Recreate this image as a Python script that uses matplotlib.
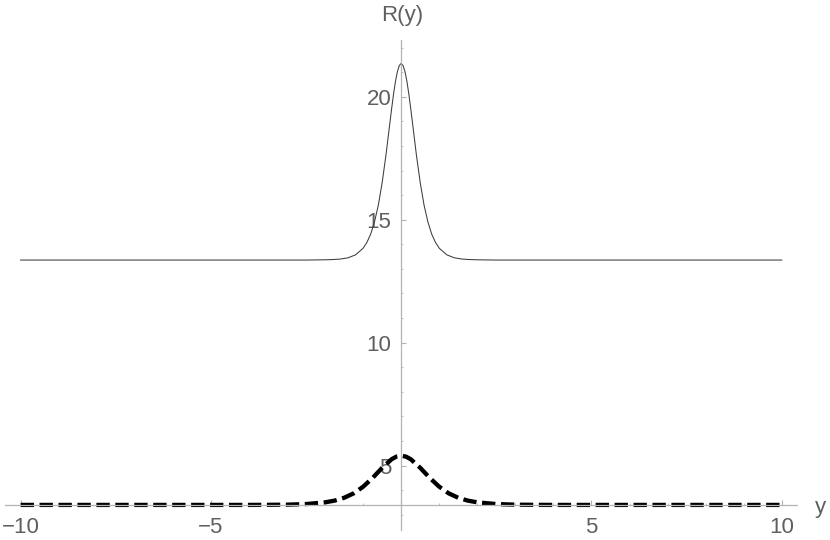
import matplotlib.pyplot as plt
from matplotlib.ticker import MultipleLocator

# values
y_solid = [-10, -2.5, -2.0, -1.8, -1.6, -1.4, -1.2, -1.0, -0.9, -0.8, -0.7, -0.6, -0.5,
           -0.4, -0.3, -0.25, -0.2, -0.15, -0.1, -0.05, 0, 0.05, 0.1, 0.15, 0.2, 0.25,
           0.3, 0.4, 0.5, 0.6, 0.7, 0.8, 0.9, 1.0, 1.2, 1.4, 1.6, 1.8, 2.0, 2.5, 10]
r_solid = [13.36, 13.36, 13.37, 13.38, 13.40, 13.45, 13.57, 13.84, 14.08, 14.42, 14.92,
           15.60, 16.51, 17.63, 18.90, 19.53, 20.12, 20.63, 21.02, 21.27, 21.36, 21.27,
           21.02, 20.63, 20.12, 19.53, 18.90, 17.63, 16.51, 15.60, 14.92, 14.42, 14.08,
           13.84, 13.57, 13.45, 13.40, 13.38, 13.37, 13.36, 13.36]

y_dashed = [-10, -4.0, -3.5, -3.0, -2.5, -2.0, -1.75, -1.5, -1.25, -1.0, -0.75, -0.5,
            -0.25, -0.125, 0, 0.125, 0.25, 0.5, 0.75, 1.0, 1.25, 1.5, 1.75, 2.0, 2.5,
            3.0, 3.5, 4.0, 10]
r_dashed = [3.40, 3.40, 3.404, 3.41, 3.435, 3.505, 3.575, 3.69, 3.87, 4.14, 4.50, 4.91,
            5.26, 5.365, 5.40, 5.365, 5.26, 4.91, 4.50, 4.14, 3.87, 3.69, 3.575, 3.505,
            3.435, 3.41, 3.404, 3.40, 3.40]

x_major = [-10, -5, 0, 5, 10]
y_major = [5, 10, 15, 20]

plt.rcParams['font.family'] = ['Liberation Sans', 'DejaVu Sans']

fig = plt.figure(figsize=(8.3, 5.4), dpi=100)
ax = fig.add_axes([5 / 830, 10 / 540, 792 / 830, 490 / 540])

ax.plot(y_solid, r_solid, color='#3c3c3c', lw=0.75)
ax.plot(y_dashed, r_dashed, color='black', lw=3.1, linestyle=(0, (3.1, 1.3)),
        dash_capstyle='butt')

ax.set_xlim(-10.41, 10.40)
ax.set_ylim(2.38, 22.31)

axis_col = '#b3b3b3'
ax.spines['top'].set_visible(False)
ax.spines['right'].set_visible(False)
ax.spines['left'].set_position(('data', 0))
ax.spines['bottom'].set_position(('data', 3.4))
for s in ('left', 'bottom'):
    ax.spines[s].set_color(axis_col)
    ax.spines[s].set_linewidth(0.9)

ax.set_xticks(x_major)
ax.set_xticklabels(['\u221210', '\u22125', '', '5', '10'])
ax.set_yticks(y_major)
ax.xaxis.set_minor_locator(MultipleLocator(1))
ax.yaxis.set_minor_locator(MultipleLocator(1))
ax.tick_params(which='both', direction='in', color=axis_col, labelcolor='#5f5f5f',
               labelsize=16)
ax.tick_params(which='major', length=3.4, width=0.8)
ax.tick_params(which='minor', length=1.7, width=0.6)
ax.tick_params(axis='x', pad=9)
ax.tick_params(axis='y', pad=7)

fig.text(401.7 / 830, 1 - 15 / 540, 'R(y)', ha='center', va='center',
         fontsize=16, color='#5f5f5f')
fig.text(820 / 830, 1 - 508 / 540, 'y', ha='center', va='center',
         fontsize=16, color='#5f5f5f')

fig.savefig('out.png', dpi=100)
